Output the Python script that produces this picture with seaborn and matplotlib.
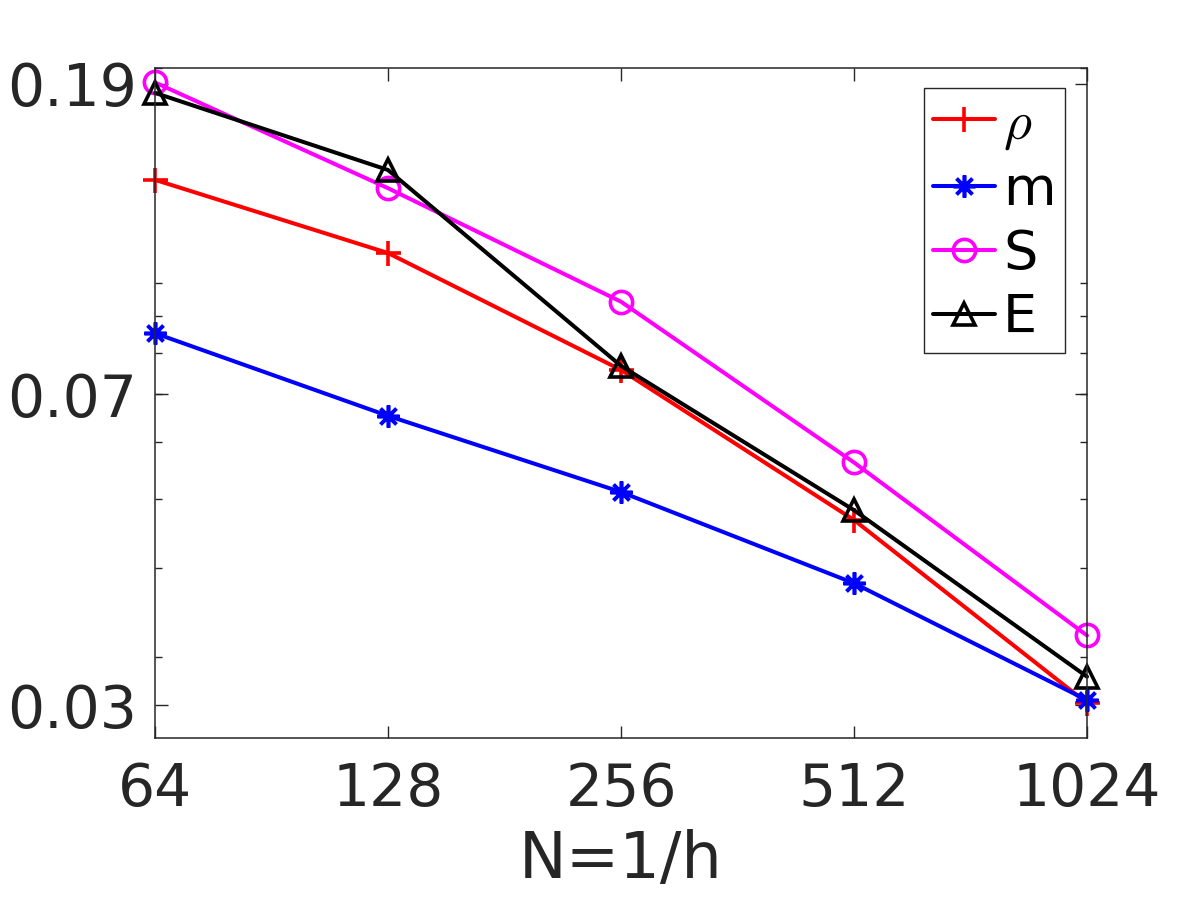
import numpy as np
import matplotlib
matplotlib.use("Agg")
import matplotlib.pyplot as plt
from matplotlib.ticker import LogLocator, NullLocator, NullFormatter
import pandas as pd
import seaborn as sns

# data
N = [64, 128, 256, 512, 1024]
err_rho = [0.1396, 0.1103, 0.0757, 0.0467, 0.0259]
err_m = [0.0852, 0.0653, 0.0511, 0.0381, 0.02615]
err_S = [0.1910, 0.1359, 0.0943, 0.0562, 0.0322]
err_E = [0.1847, 0.1441, 0.0767, 0.0482, 0.0282]

series_names = [r"$\rho$", "m", "S", "E"]
series_vals = [err_rho, err_m, err_S, err_E]
series_colors = ["#ff0000", "#0000ff", "#ff00ff", "#000000"]
series_markers = ["+", (8, 2, 0), "o", "^"]

ytick_labels = ["0.03", "0.07", "0.19"]
xtick_labels = ["64", "128", "256", "512", "1024"]

sns.set_theme(style="ticks")
plt.rcParams["font.family"] = ["DejaVu Sans"]
plt.rcParams["mathtext.fontset"] = "cm"

fig = plt.figure(figsize=(12, 9), dpi=100)
ax = fig.add_axes([155 / 1200, 1 - 737.7 / 900, (1087 - 155) / 1200, (737.7 - 67.7) / 900])

df = pd.DataFrame({"N": N * 4,
                   "err": sum(series_vals, []),
                   "name": sum([[n] * len(N) for n in series_names], [])})

msizes = [18, 16, 16, 16]
for name, col, mk, ms in zip(series_names, series_colors, series_markers, msizes):
    sub = df[df["name"] == name]
    hollow = mk in ("o", "^")
    sns.lineplot(data=sub, x="N", y="err", ax=ax, color=col, marker=mk,
                 markersize=ms, markerfacecolor="none" if hollow else col,
                 markeredgecolor=col, markeredgewidth=2.6, linewidth=2.9,
                 label=name, clip_on=False, estimator=None)

ax.set_xscale("log", base=2)
ax.set_yscale("log")
ax.set_xlim(64, 1024)
ax.set_ylim(0.02317, 0.2003)

ax.set_xticks(N)
ax.set_xticklabels(xtick_labels)
ax.xaxis.set_minor_locator(NullLocator())

ax.yaxis.set_major_locator(plt.FixedLocator(np.exp([-3.66, -2.66, -1.66])))
ax.set_yticklabels(ytick_labels)
ax.yaxis.set_minor_locator(LogLocator(base=10, subs=np.arange(1, 10)))
ax.yaxis.set_minor_formatter(NullFormatter())

ax.tick_params(axis="both", which="major", direction="in", length=9, width=1,
               labelsize=42, labelcolor="#262626", color="#262626",
               top=True, right=True)
ax.tick_params(axis="y", which="major", pad=13)
ax.tick_params(axis="x", which="major", pad=17)
ax.tick_params(axis="y", which="minor", direction="in", length=5, width=1,
               color="#262626", right=True, left=True)

for sp in ax.spines.values():
    sp.set_visible(True)
    sp.set_color("#262626")
    sp.set_linewidth(1.1)

ax.set_xlabel("N=1/h", fontsize=46, color="#262626", labelpad=8)
ax.set_ylabel("")

leg = ax.legend(loc="upper right", bbox_to_anchor=(1065 / 1200, 1 - 88 / 900),
                bbox_transform=fig.transFigure, borderaxespad=0, fontsize=39,
                frameon=True, fancybox=False, handlelength=1.15, handletextpad=0.15,
                labelspacing=0.225, borderpad=0.17)
leg.get_frame().set_edgecolor("#262626")
leg.get_frame().set_linewidth(1.0)
leg.get_frame().set_alpha(1)
for t in leg.get_texts():
    t.set_color("black")

fig.savefig("out.png", dpi=100)
